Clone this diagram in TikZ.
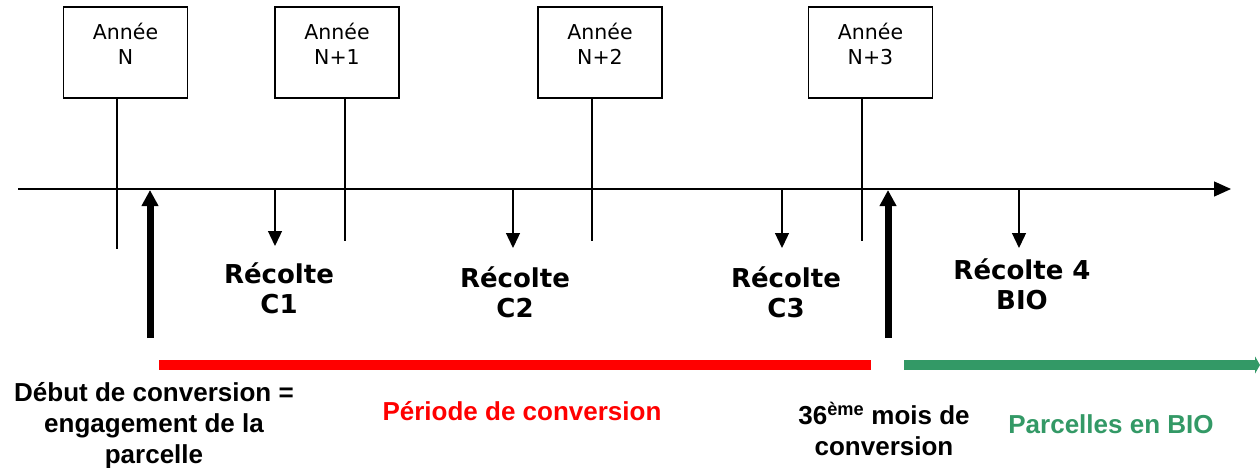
\documentclass[tikz,border=0pt]{standalone}
\usepackage{fontspec}
\setmainfont{DejaVu Sans}
\newfontfamily\arialfont{Liberation Sans}
\usetikzlibrary{arrows.meta}
\definecolor{biogreen}{RGB}{51,153,102}

\begin{document}
\begin{tikzpicture}[x=1pt,y=-1pt,
  annee/.style={draw, line width=1.3pt, minimum width=124pt, minimum height=91pt, inner sep=0pt},
  anneetxt/.style={anchor=north, inner sep=0pt, align=center, font=\fontsize{20.5}{25}\selectfont},
  trait/.style={line width=1.3pt},
  recolte/.style={anchor=north, inner sep=0pt, align=center, font=\fontsize{26}{30}\selectfont\bfseries},
  legende/.style={anchor=north, inner sep=0pt, align=center, font=\arialfont\fontsize{26}{31}\selectfont\bfseries}]
\useasboundingbox (0,0) rectangle (1260,467);

% axe du temps
\coordinate (axeA) at (18,189);
\coordinate (axeB) at (1231,189);
\draw [trait, -{Triangle[length=17pt,width=15pt]}] (axeA) -- (axeB);

% annees
\foreach \nom/\cx/\lx/\an/\len in {yN/125.5/117/N/150, yA/337/345/N+1/142, yB/600/592/N+2/142, yC/870.5/862/N+3/142} {
\node [annee] (\nom) at (\cx,52.5) {};
\node [anneetxt] (t\nom) at (\cx,23) {Année\\\an};
\draw [trait] (\nom.south -| \lx,0) -- ++(0,\len);
}

% recoltes
\foreach \nom/\x/\fin in {rA/275/246, rB/513/248, rC/782/248, rD/1019/248} {
\coordinate (\nom) at (\x,189);
\draw [trait, -{Triangle[length=15pt,width=14pt]}] (\nom) -- (\x,\fin);
}
\node [recolte] (recA) at (279,262) {Récolte\\C1};
\node [recolte] (recB) at (515,266) {Récolte\\C2};
\node [recolte] (recC) at (786,266) {Récolte\\C3};
\node [recolte] (recD) at (1022,258) {Récolte 4\\BIO};

% debut et fin de conversion
\coordinate (debut) at (150,338);
\coordinate (fin) at (888,338);
\draw [line width=7pt, -{Triangle[length=16pt,width=16pt]}] (debut) -- (150,190);
\draw [line width=7pt, -{Triangle[length=16pt,width=16pt]}] (fin) -- (888,190);

% periodes
\coordinate (convA) at (159,365);
\coordinate (convB) at (871,365);
\coordinate (bioA) at (904,365);
\coordinate (bioB) at (1260,365);
\draw [red, line width=10pt] (convA) -- (convB);
\draw [biogreen, line width=10pt, -{Triangle[length=5pt,width=17pt]}] (bioA) -- (bioB);

\node [legende] (ldebut) at (154,382) {Début de conversion =\\engagement de la\\parcelle};
\node [legende, red] (lconv) at (522,401) {Période de conversion};
\node [legende] (lfin) at (884,402) {36\textsuperscript{ème} mois de\\conversion};
\node [legende, biogreen] (lbio) at (1111,414) {Parcelles en BIO};

\end{tikzpicture}
\end{document}
